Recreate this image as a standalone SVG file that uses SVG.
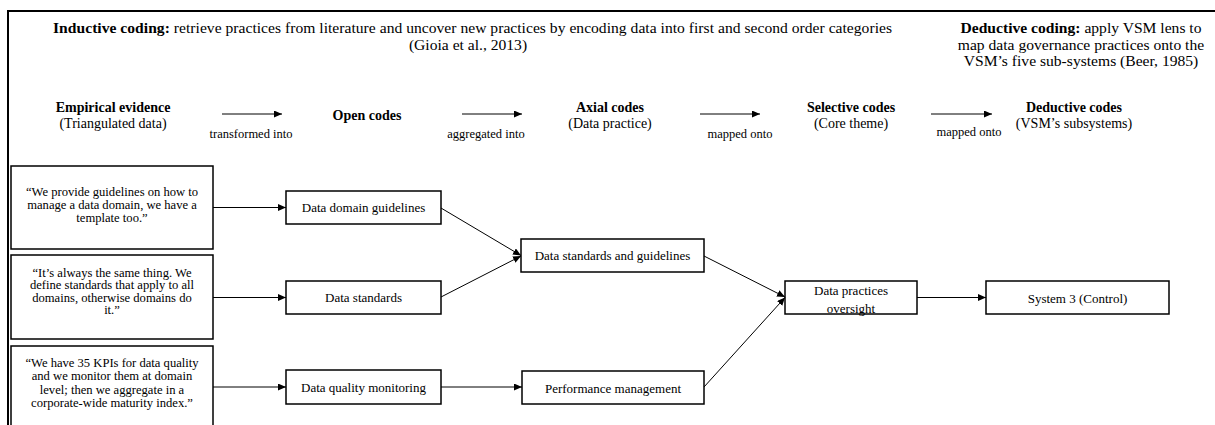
<svg xmlns="http://www.w3.org/2000/svg" width="1215" height="425" viewBox="0 0 1215 425">
  <style>
    text { font-family: "Liberation Serif", "Times New Roman", serif; fill: #000; }
    .head { font-size: 14px; text-anchor: middle; }
    .para { font-size: 15.6px; text-anchor: middle; }
    .b { font-weight: bold; }
    .verb { font-size: 12.5px; text-anchor: middle; }
    .quote { font-size: 12.6px; text-anchor: middle; }
    .lbl { font-size: 13px; text-anchor: middle; }
    .box { fill: #fff; stroke: #000; stroke-width: 1.5; }
    .frame { fill: none; stroke: #000; stroke-width: 2; }
    .conn { fill: none; stroke: #000; stroke-width: 1; }
  </style>
  <defs>
    <marker id="arrow" markerUnits="userSpaceOnUse" markerWidth="9" markerHeight="8" refX="8" refY="3.5" orient="auto">
      <path d="M0,0 L8,3.5 L0,7 z" fill="#000"/>
    </marker>
  </defs>

  <rect width="1215" height="425" fill="#fff"/>

  <!-- outer frame, open to the right and bottom -->
  <path class="frame" d="M8,430 V11 H1220"/>

  <!-- coding approach headings -->
  <g id="inductive-heading">
    <text class="para" x="472.5" y="32.5" textLength="839" lengthAdjust="spacing"><tspan class="b">Inductive coding:</tspan> retrieve practices from literature and uncover new practices by encoding data into first and second order categories</text>
    <text class="para" x="468" y="50">(Gioia et al., 2013)</text>
  </g>
  <g id="deductive-heading">
    <text class="para" x="1081" y="32.5"><tspan class="b">Deductive coding:</tspan> apply VSM lens to</text>
    <text class="para" x="1081" y="49.5">map data governance practices onto the</text>
    <text class="para" x="1081" y="66">VSM’s five sub-systems (Beer, 1985)</text>
  </g>

  <!-- column headings -->
  <g id="col-empirical">
    <text class="head b" x="113" y="111.5">Empirical evidence</text>
    <text class="head" x="113" y="127.5">(Triangulated data)</text>
  </g>
  <g id="col-open">
    <text class="head b" x="367" y="120">Open codes</text>
  </g>
  <g id="col-axial">
    <text class="head b" x="610" y="111.5">Axial codes</text>
    <text class="head" x="610" y="127.5">(Data practice)</text>
  </g>
  <g id="col-selective">
    <text class="head b" x="851" y="111.5">Selective codes</text>
    <text class="head" x="851" y="127.5">(Core theme)</text>
  </g>
  <g id="col-deductive">
    <text class="head b" x="1074" y="111.5">Deductive codes</text>
    <text class="head" x="1074" y="127.5">(VSM’s subsystems)</text>
  </g>

  <!-- step verbs under the heading arrows -->
  <g id="step-labels">
    <text class="verb" x="251" y="138">transformed into</text>
    <text class="verb" x="486" y="138">aggregated into</text>
    <text class="verb" x="740" y="138">mapped onto</text>
    <text class="verb" x="969" y="136">mapped onto</text>
  </g>

  <!-- evidence quotes -->
  <g id="quote-1">
    <rect class="box" x="11" y="166" width="202" height="83"/>
    <text class="quote" x="112" y="195.5">“We provide guidelines on how to</text>
    <text class="quote" x="112" y="208.5">manage a data domain, we have a</text>
    <text class="quote" x="112" y="221.5">template too.”</text>
  </g>
  <g id="quote-2">
    <rect class="box" x="11" y="255" width="202" height="84"/>
    <text class="quote" x="112" y="276.5">“It’s always the same thing. We</text>
    <text class="quote" x="112" y="289">define standards that apply to all</text>
    <text class="quote" x="112" y="301.5">domains, otherwise domains do</text>
    <text class="quote" x="112" y="314">it.”</text>
  </g>
  <g id="quote-3">
    <rect class="box" x="11" y="346" width="202" height="90"/>
    <text class="quote" x="112" y="366.5">“We have 35 KPIs for data quality</text>
    <text class="quote" x="112" y="380">and we monitor them at domain</text>
    <text class="quote" x="112" y="393.5">level; then we aggregate in a</text>
    <text class="quote" x="112" y="407">corporate-wide maturity index.”</text>
  </g>

  <!-- open codes -->
  <g id="open-domain-guidelines">
    <rect class="box" x="286" y="191" width="155" height="33"/>
    <text class="lbl" x="363.5" y="212">Data domain guidelines</text>
  </g>
  <g id="open-standards">
    <rect class="box" x="286" y="281" width="155" height="33"/>
    <text class="lbl" x="363.5" y="302">Data standards</text>
  </g>
  <g id="open-quality-monitoring">
    <rect class="box" x="286" y="370" width="155" height="34"/>
    <text class="lbl" x="363.5" y="391.5">Data quality monitoring</text>
  </g>

  <!-- axial codes -->
  <g id="axial-standards-guidelines">
    <rect class="box" x="521" y="239" width="183" height="33"/>
    <text class="lbl" x="612.5" y="260">Data standards and guidelines</text>
  </g>
  <g id="axial-performance">
    <rect class="box" x="522" y="371" width="182" height="33"/>
    <text class="lbl" x="613" y="393">Performance management</text>
  </g>

  <!-- selective code -->
  <g id="selective-oversight">
    <rect class="box" x="785" y="281" width="132" height="33"/>
    <text class="lbl" x="851" y="294.5">Data practices</text>
    <text class="lbl" x="851" y="312.5">oversight</text>
  </g>

  <!-- deductive code -->
  <g id="deductive-system3">
    <rect class="box" x="986" y="281" width="183" height="33"/>
    <text class="lbl" x="1077.5" y="303">System 3 (Control)</text>
  </g>

  <!-- connectors -->
  <g id="connectors">
    <line class="conn" x1="222" y1="114" x2="282" y2="114" marker-end="url(#arrow)"/>
    <line class="conn" x1="462" y1="114" x2="522" y2="114" marker-end="url(#arrow)"/>
    <line class="conn" x1="700" y1="114" x2="760" y2="114" marker-end="url(#arrow)"/>
    <line class="conn" x1="931" y1="114" x2="992" y2="114" marker-end="url(#arrow)"/>

    <line class="conn" x1="213" y1="207.5" x2="286" y2="207.5" marker-end="url(#arrow)"/>
    <line class="conn" x1="213" y1="297.5" x2="286" y2="297.5" marker-end="url(#arrow)"/>
    <line class="conn" x1="213" y1="387" x2="286" y2="387" marker-end="url(#arrow)"/>

    <line class="conn" x1="441" y1="208" x2="521" y2="255.5" marker-end="url(#arrow)"/>
    <line class="conn" x1="441" y1="297" x2="521" y2="256" marker-end="url(#arrow)"/>
    <line class="conn" x1="441" y1="387" x2="522" y2="387" marker-end="url(#arrow)"/>

    <line class="conn" x1="704" y1="256" x2="785" y2="297" marker-end="url(#arrow)"/>
    <line class="conn" x1="704" y1="387" x2="785" y2="297.5" marker-end="url(#arrow)"/>

    <line class="conn" x1="917" y1="297.5" x2="986" y2="297.5" marker-end="url(#arrow)"/>
  </g>
</svg>
